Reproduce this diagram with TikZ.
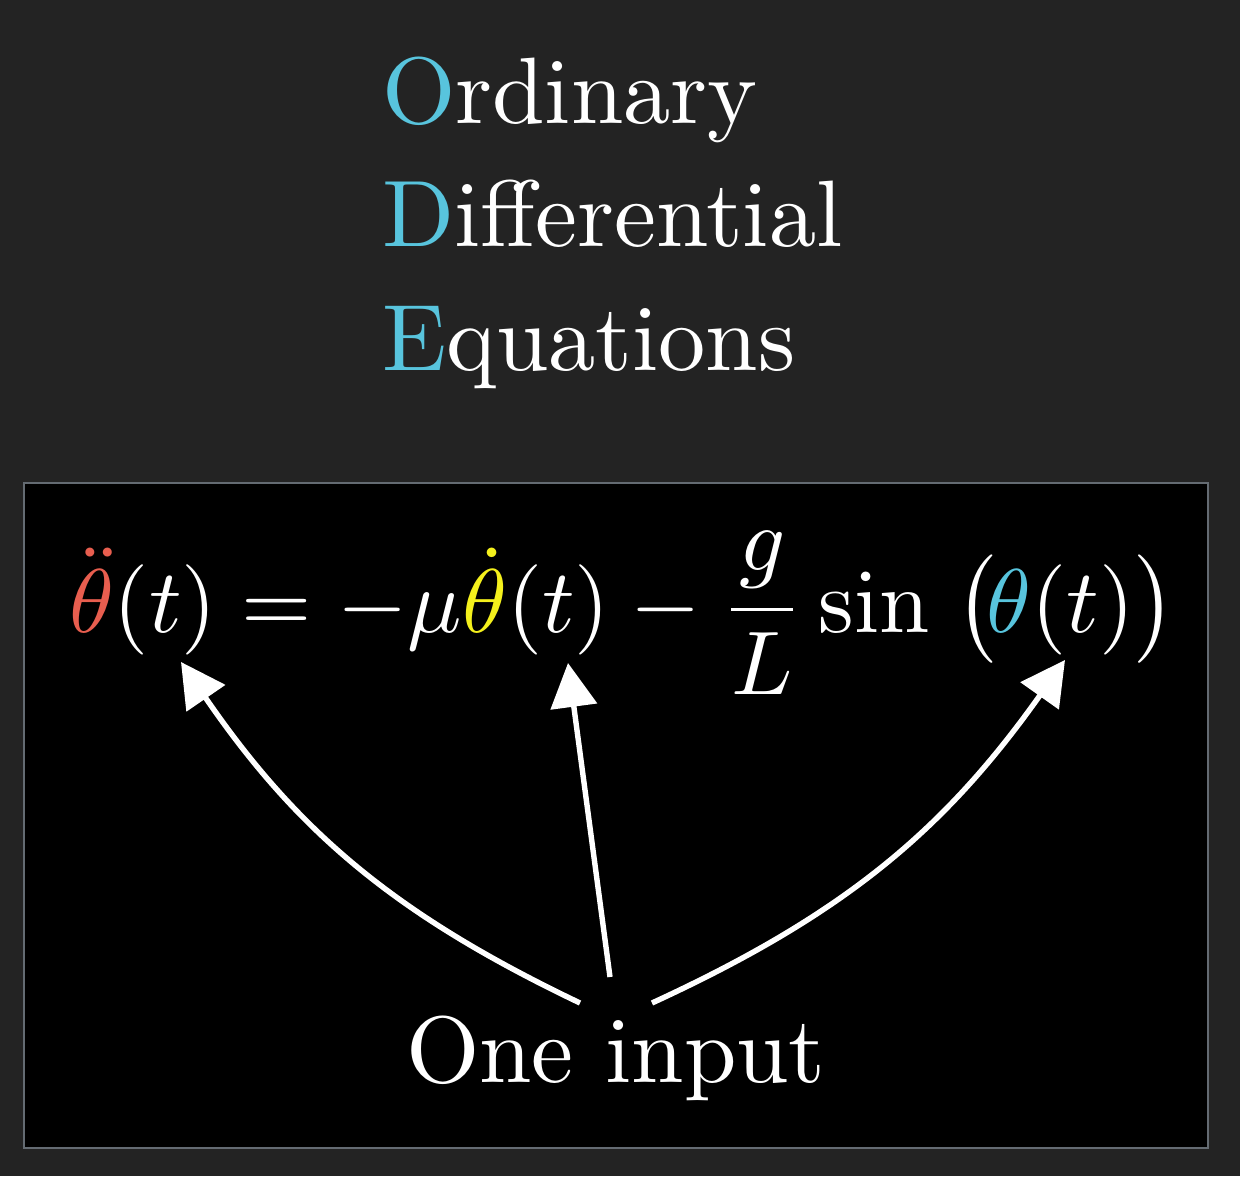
\documentclass[tikz,border=0pt]{standalone}
\usetikzlibrary{arrows.meta}
\definecolor{bgdark}{HTML}{232323}
\definecolor{boxborder}{HTML}{646B72}
\definecolor{odeblue}{HTML}{58C4DD}
\definecolor{eqred}{HTML}{E85E4F}
\definecolor{eqyellow}{HTML}{F4F01C}
\tikzset{
  bigtext/.style={scale=4.72, inner sep=0pt, outer sep=0pt, anchor=base west, text=white},
  eqtext/.style={scale=4.52, inner sep=0pt, outer sep=0pt, anchor=base west, text=white},
  pointer/.style={draw=white, line width=2.7pt, -{Triangle[length=22pt,width=23pt]}},
}
\begin{document}
\begin{tikzpicture}[x=0.5pt,y=-0.5pt]
\fill[bgdark] (0,0) rectangle (1240,1176);
\useasboundingbox (0,0) rectangle (1240,1176);
% title
\node[bigtext] (o1) at (382,124) {\textcolor{odeblue}{O}rdinary};
\node[bigtext] (o2) at (382,247) {\textcolor{odeblue}{D}ifferential};
\node[bigtext] (o3) at (382,370) {\textcolor{odeblue}{E}quations};
% box
\draw[fill=black, draw=boxborder, line width=1pt] (24,483) rectangle (1208,1148);
% equation
\node[eqtext] (eq) at (69,632) {$\displaystyle {\color{eqred}\ddot\theta}(t) = -\mu{\color{eqyellow}\dot\theta}(t) - \frac{g}{L}\sin\mskip5mu\bigl(\mskip-2mu{\color{odeblue}\theta}(t)\bigr)$};
% label
\node[bigtext] (inp) at (406,1082) {One input};
% arrow ends
\coordinate (tailA) at (580,1003);
\coordinate (tipA) at (181,662);
\coordinate (tailB) at (610,977);
\coordinate (tipB) at (568,663);
\coordinate (tailC) at (652,1003);
\coordinate (tipC) at (1065,660);
\draw[pointer] (tailA) .. controls (394.6,914.4) and (297.3,831.5) .. (tipA);
\draw[pointer] (tailB) -- (tipB);
\draw[pointer] (tailC) .. controls (842.9,915.1) and (943.5,831.5) .. (tipC);
\end{tikzpicture}
\end{document}
